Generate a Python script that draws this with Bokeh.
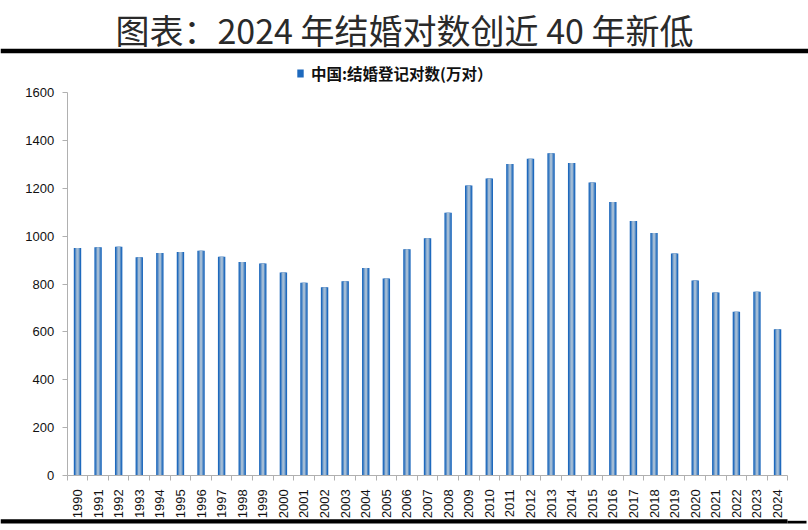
from bokeh.plotting import figure
from bokeh.models import Range1d, Legend, LegendItem, ColumnDataSource, LinearAxis, FixedTicker
from bokeh.embed import file_html
from bokeh.resources import INLINE
from bokeh.core.properties import value

years = [str(y) for y in range(1990, 2025)]
marriages = [951.1, 953.9, 955.9, 912.4, 929.4, 934.1, 938.7, 914.1, 891.7, 885.4,
             848.5, 805.0, 786.0, 811.4, 867.2, 823.1, 945.0, 991.4, 1098.3, 1212.4,
             1241.0, 1302.4, 1323.6, 1346.9, 1306.7, 1224.7, 1142.8, 1063.1, 1013.9, 927.3,
             814.3, 764.3, 683.5, 768.0, 610.6]
y_ticks = [0, 200, 400, 600, 800, 1000, 1200, 1400, 1600]
title_text = "图表：2024 年结婚对数创近 40 年新低"
series_name = "中国:结婚登记对数(万对）"

W, H = 808, 530
n = len(years)
# canvas-wide frame; category i occupies [i, i+1]
PX_X = 20.59   # pixels per category
PX_Y = 0.239   # pixels per value unit
AX_L, AX_B = 66.7, 474.7   # pixel position of axis origin in the canvas
x0 = -AX_L / PX_X
x1 = n + (W - AX_L - n * PX_X) / PX_X
y1 = AX_B / PX_Y
y0 = -(H - AX_B) / PX_Y

centers = [i + 0.5 for i in range(n)]
src = ColumnDataSource(dict(x=centers, val=marriages))

p = figure(width=W, height=H, output_backend="svg", toolbar_location=None,
           x_range=Range1d(x0, x1), y_range=Range1d(y0, y1),
           x_axis_location=None, y_axis_location=None,
           min_border=0, outline_line_color=None,
           background_fill_color="#ffffff", border_fill_color="#ffffff")
p.grid.visible = False

r1 = p.vbar(x="x", top="val", width=0.36, source=src, fill_color="#1e69bd", line_color=None)
r2 = p.vbar(x="x", top="val", width=0.24, source=src, fill_color="#5a8ec6", line_color=None)
r3 = p.vbar(x="x", top="val", width=0.12, source=src, fill_color="#a3bcd5", line_color=None)

AX_COL = "#b0b0b0"
# y axis
ya = LinearAxis(fixed_location=0, ticker=FixedTicker(ticks=y_ticks), bounds=(y_ticks[0], y_ticks[-1]),
                axis_line_color=AX_COL, major_tick_line_color=AX_COL, minor_tick_line_color=None,
                major_tick_in=0, major_tick_out=5, major_label_standoff=8,
                major_label_text_font="Liberation Sans", major_label_text_font_size="13px",
                major_label_text_color="#111111")
p.add_layout(ya, "left")
# x axis: labels at category centres, ticks between categories
xa = LinearAxis(fixed_location=0, bounds=(0, n),
                ticker=FixedTicker(ticks=centers, minor_ticks=list(range(n + 1))),
                major_label_overrides={c: y for c, y in zip(centers, years)},
                axis_line_color=AX_COL, major_tick_line_color=None,
                minor_tick_line_color=AX_COL, minor_tick_in=0, minor_tick_out=5,
                major_label_orientation=1.5708, major_label_standoff=8,
                major_label_text_font="Liberation Sans", major_label_text_font_size="13px",
                major_label_text_color="#111111")
p.add_layout(xa, "below")

# legend
legend = Legend(items=[LegendItem(label=series_name, renderers=[r1])],
                location=(296, 446), orientation="horizontal",
                label_text_font="Noto Sans CJK SC", label_text_font_style="bold",
                label_text_font_size="15.5px", label_text_color="#111111",
                glyph_width=8, glyph_height=10, label_standoff=7,
                border_line_color=None, background_fill_alpha=0,
                padding=0, margin=0)
p.add_layout(legend)

def px_x(px):
    return (px - AX_L) / PX_X

def px_y(py):
    return (AX_B - py) / PX_Y

# title
p.text(x=[px_x(404)], y=[px_y(29)], text=[title_text],
       text_align="center", text_baseline="middle",
       text_font=value("Noto Sans CJK SC"), text_font_size="34px", text_color="#2a2a2a")

# black rules
p.quad(left=[px_x(0)], right=[px_x(W)], top=[px_y(48.3)], bottom=[px_y(52.7)],
       fill_color="black", line_color=None)
p.quad(left=[px_x(0), px_x(787)], right=[px_x(787), px_x(806)],
       top=[px_y(518.8), px_y(520.3)], bottom=[px_y(523), px_y(523)],
       fill_color="black", line_color=None)

open("out.html", "w").write(file_html(p, INLINE))
